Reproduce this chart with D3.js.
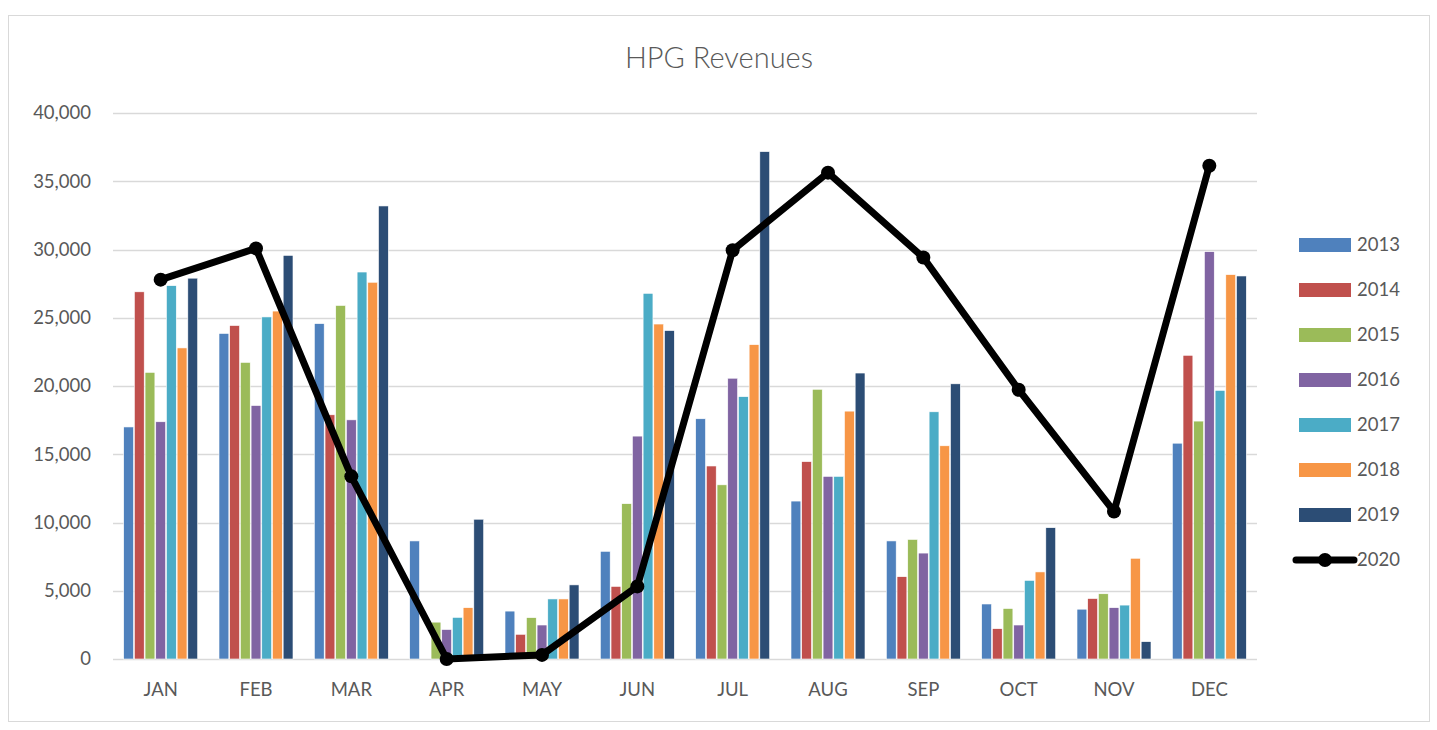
<!DOCTYPE html>
<html>
<head>
<meta charset="utf-8">
<script src="https://cdn.jsdelivr.net/npm/d3@7"></script>
<style>
    body { margin: 0; background: #fff; }
    text { font-family: Lato, "Open Sans", sans-serif; fill: #595959; }
</style>
</head>
<body>
<div id="HPGChart"></div>
<script>

// chart data
var months = ["JAN", "FEB", "MAR", "APR", "MAY", "JUN", "JUL", "AUG", "SEP", "OCT", "NOV", "DEC"];
var barYears = ["2013", "2014", "2015", "2016", "2017", "2018", "2019"];
var lineYear = "2020";

var rev2013 = [17000, 23850, 24570, 8650, 3510, 7890, 17600, 11570, 8650, 4030, 3650, 15810];
var rev2014 = [26900, 24430, 17890, 0, 1810, 5320, 14140, 14460, 6030, 2220, 4430, 22250];
var rev2015 = [21000, 21730, 25900, 2700, 3030, 11380, 12760, 19760, 8760, 3700, 4780, 17430];
var rev2016 = [17380, 18570, 17520, 2160, 2490, 16330, 20570, 13380, 7760, 2490, 3760, 29840];
var rev2017 = [27350, 25060, 28350, 3050, 4400, 26790, 19220, 13380, 18110, 5760, 3950, 19680];
var rev2018 = [22790, 25490, 27600, 3760, 4400, 24540, 23030, 18160, 15620, 6380, 7380, 28160];
var rev2019 = [27900, 29570, 33190, 10240, 5430, 24060, 37170, 20950, 20160, 9620, 1270, 28060];
var rev2020 = [27790, 30080, 13380, 0, 300, 5320, 29950, 35630, 29410, 19730, 10810, 36140];

var yTicks = [0, 5000, 10000, 15000, 20000, 25000, 30000, 35000, 40000];

var barSeries = [rev2013, rev2014, rev2015, rev2016, rev2017, rev2018, rev2019];
var colors = ["#4F81BD", "#C0504D", "#9BBB59", "#8064A2", "#4BACC6", "#F79646", "#2C4D75"];

// drawing area
var width = 1437, height = 730;
var margin = {top: 113, right: 180, bottom: 71, left: 113};
var innerW = 1257 - margin.left,
    innerH = 659 - margin.top;

var svg = d3.select("#HPGChart").append("svg")
    .attr("width", width)
    .attr("height", height);

// outer chart border
svg.append("rect")
    .attr("x", 8.5).attr("y", 15.5)
    .attr("width", 1421).attr("height", 706)
    .attr("fill", "#fff")
    .attr("stroke", "#d9d9d9");

svg.append("text")
    .attr("x", 719).attr("y", 68)
    .attr("text-anchor", "middle")
    .style("font-size", "29px")
    .style("font-weight", 300)
    .text("HPG Revenues");

var g = svg.append("g")
    .attr("transform", "translate(" + margin.left + "," + margin.top + ")");

// scales
var x0 = d3.scaleBand()
    .domain(months)
    .range([0, innerW])
    .paddingInner(0.206)
    .paddingOuter(0.103);
var x1 = d3.scaleBand()
    .domain(barYears)
    .range([0, x0.bandwidth()])
    .padding(0.08);
var y = d3.scaleLinear()
    .domain([0, 40000])
    .range([innerH, 0]);

// gridlines
g.selectAll(".grid")
    .data(yTicks)
    .enter().append("line")
    .attr("x1", 0).attr("x2", innerW)
    .attr("y1", function(d) { return Math.round(y(d)) + 0.5; })
    .attr("y2", function(d) { return Math.round(y(d)) + 0.5; })
    .attr("stroke", "#d9d9d9")
    .attr("stroke-width", 1.5);

// y axis labels
var yAxis = g.append("g")
    .call(d3.axisLeft(y).tickValues(yTicks).tickSize(0).tickPadding(22).tickFormat(d3.format(",")));
yAxis.select(".domain").remove();
yAxis.selectAll("text").style("font-size", "18.5px").attr("fill", "#595959");

// x axis labels
var xAxis = g.append("g")
    .attr("transform", "translate(0," + innerH + ")")
    .call(d3.axisBottom(x0).tickSize(0).tickPadding(24));
xAxis.select(".domain").remove();
xAxis.selectAll("text").style("font-size", "18.5px").attr("fill", "#595959");

// bars
var monthGroups = g.selectAll(".month")
    .data(months)
    .enter().append("g")
    .attr("transform", function(d) { return "translate(" + x0(d) + ",0)"; });

monthGroups.selectAll("rect")
    .data(function(m, i) {
        return barYears.map(function(yr, j) { return {year: yr, value: barSeries[j][i], color: colors[j]}; });
    })
    .enter().append("rect")
    .attr("x", function(d) { return x1(d.year); })
    .attr("width", x1.bandwidth())
    .attr("y", function(d) { return y(d.value); })
    .attr("height", function(d) { return innerH - y(d.value); })
    .attr("fill", function(d) { return d.color; })
    .attr("stroke", "#fff")
    .attr("stroke-width", 0.6);

// 2020 line
var line = d3.line()
    .x(function(d, i) { return x0(months[i]) + x0.bandwidth() / 2; })
    .y(function(d) { return y(d); });

g.append("path")
    .datum(rev2020)
    .attr("d", line)
    .attr("fill", "none")
    .attr("stroke", "#000")
    .attr("stroke-width", 7)
    .attr("stroke-linejoin", "round");

g.selectAll(".dot")
    .data(rev2020)
    .enter().append("circle")
    .attr("cx", function(d, i) { return x0(months[i]) + x0.bandwidth() / 2; })
    .attr("cy", function(d) { return y(d); })
    .attr("r", 7)
    .attr("fill", "#000");

// legend
var legend = svg.append("g").attr("transform", "translate(1299,245)");
barYears.forEach(function(yr, i) {
    var row = legend.append("g").attr("transform", "translate(0," + (i * 45) + ")");
    row.append("rect")
        .attr("x", 0).attr("y", -7)
        .attr("width", 52).attr("height", 14)
        .attr("fill", colors[i]);
    row.append("text")
        .attr("x", 58).attr("y", 0)
        .attr("dy", "0.35em")
        .style("font-size", "18.5px")
        .text(yr);
});
var lrow = legend.append("g").attr("transform", "translate(0," + (7 * 45) + ")");
lrow.append("line")
    .attr("x1", -3).attr("x2", 55)
    .attr("y1", 0).attr("y2", 0)
    .attr("stroke", "#000")
    .attr("stroke-width", 7)
    .attr("stroke-linecap", "round");
lrow.append("circle")
    .attr("cx", 26).attr("cy", 0).attr("r", 7)
    .attr("fill", "#000");
lrow.append("text")
    .attr("x", 58).attr("y", 0)
    .attr("dy", "0.35em")
    .style("font-size", "18.5px")
    .text(lineYear);

</script>
</body>
</html>
